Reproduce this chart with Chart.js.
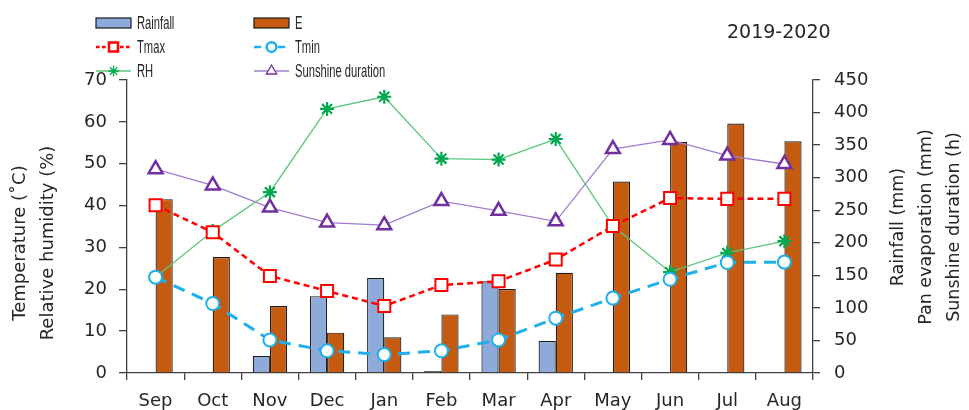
<!DOCTYPE html><html lang="en"><head><meta charset="utf-8">
<title>Climate 2019-2020</title>
<script src="https://cdn.jsdelivr.net/npm/chart.js@4.4.0/dist/chart.umd.min.js"></script>
<style>
html, body { margin: 0; padding: 0; background: #fff; }
#wrap { width: 969px; height: 410px; }
</style>
</head><body>
<div id="wrap"><canvas id="myChart" width="969" height="410"></canvas></div>

<script>
const months = ["Sep", "Oct", "Nov", "Dec", "Jan", "Feb", "Mar", "Apr", "May", "Jun", "Jul", "Aug"];

// right axis (mm / h)
const rainfall = [0, 1, 26, 118, 146, 3, 141, 49, 1, 1, 1, 1];
const evap = [267, 178, 103, 62, 55, 90, 129, 154, 294, 355, 383, 356];
const sunshine = [313, 288, 254, 231, 227, 264, 249, 233, 344, 358, 334, 321];

// left axis (degC / %)
const tmax = [40.1, 33.6, 23.2, 19.6, 16.0, 21.0, 21.9, 27.1, 35.1, 41.8, 41.6, 41.6];
const tmin = [22.9, 16.6, 7.9, 5.3, 4.4, 5.3, 7.9, 13.1, 17.9, 22.4, 26.4, 26.5];
const rh = [22.9, 33.9, 43.2, 63.1, 66.0, 51.2, 51.0, 55.9, 35.1, 24.1, 28.7, 31.5];

const axisColor = "#404040";
const textColor = "#262626";
const tickFont = { family: "DejaVu Sans", size: 18 };

const datasets = [
  {
    type: "line", label: "Tmax", data: tmax, yAxisID: "y", order: 0,
    borderColor: "#ff0000", borderWidth: 2.5, borderDash: [6, 4],
    pointStyle: "rect", pointRadius: 8.5, pointBorderWidth: 2,
    pointBackgroundColor: "#ffffff", pointBorderColor: "#ff0000",
  },
  {
    type: "line", label: "Tmin", data: tmin, yAxisID: "y", order: 0,
    borderColor: "#1fb0ec", borderWidth: 3, borderDash: [12, 8],
    pointStyle: "circle", pointRadius: 6.5, pointBorderWidth: 2,
    pointBackgroundColor: "#ffffff", pointBorderColor: "#1fb0ec",
  },
  {
    type: "line", label: "RH", data: rh, yAxisID: "y", order: 0,
    borderColor: "#5cc67d", borderWidth: 1.3,
    pointStyle: "star", pointRadius: 7, pointBorderWidth: 2.2,
    pointBackgroundColor: "#00a84f", pointBorderColor: "#00a84f",
  },
  {
    type: "line", label: "Sunshine duration", data: sunshine, yAxisID: "y1", order: 0,
    borderColor: "#9f7ccf", borderWidth: 1.3,
    pointStyle: "triangle", pointRadius: 8, pointBorderWidth: 2.5,
    pointBackgroundColor: "#ffffff", pointBorderColor: "#7030a0",
  },
  {
    type: "bar", label: "Rainfall", data: rainfall, yAxisID: "y1", order: 1,
    backgroundColor: "#8eaadb", borderColor: "#1a1a1a", borderWidth: 1.2,
    barPercentage: 1, categoryPercentage: 0.6,
  },
  {
    type: "bar", label: "E", data: evap, yAxisID: "y1", order: 1,
    backgroundColor: "#c55a11", borderColor: "#1a1a1a", borderWidth: 1.2,
    barPercentage: 1, categoryPercentage: 0.6,
  },
];

// legend in two columns, drawn from the dataset styles
const legendRows = [
  ["Rainfall", "E"],
  ["Tmax", "Tmin"],
  ["RH", "Sunshine duration"],
];
const legendY = [23, 47, 71];
const legendX = [96, 254];

const markerOf = (ds) => ({
  pointStyle: ds.pointStyle,
  radius: ds.pointRadius,
  borderWidth: ds.pointBorderWidth,
});

const drawText = (ctx, text, x, y, sx, font) => {
  ctx.save();
  ctx.font = font;
  ctx.fillStyle = textColor;
  ctx.textBaseline = "middle";
  ctx.translate(x, y);
  ctx.scale(sx, 1);
  ctx.fillText(text, 0, 0);
  ctx.restore();
};

const extras = {
  id: "extras",
  afterDraw(chart) {
    const ctx = chart.ctx;
    const byLabel = {};
    chart.data.datasets.forEach(d => byLabel[d.label] = d);

    legendRows.forEach((row, r) => {
      row.forEach((name, c) => {
        const ds = byLabel[name];
        const x0 = legendX[c], y = legendY[r];
        ctx.save();
        if (ds.type === "bar") {
          ctx.fillStyle = ds.backgroundColor;
          ctx.strokeStyle = ds.borderColor;
          ctx.lineWidth = 1.2;
          ctx.fillRect(x0, y - 5, 35, 10);
          ctx.strokeRect(x0, y - 5, 35, 10);
        } else {
          ctx.strokeStyle = ds.borderColor;
          ctx.lineWidth = Math.min(ds.borderWidth, 2.5);
          ctx.setLineDash(ds.borderDash ? ds.borderDash.map(v => v * 0.6) : []);
          ctx.beginPath();
          ctx.moveTo(x0, y);
          ctx.lineTo(x0 + 35, y);
          ctx.stroke();
          ctx.setLineDash([]);
          ctx.fillStyle = ds.pointBackgroundColor;
          ctx.strokeStyle = ds.pointBorderColor;
          const m = markerOf(ds);
          m.radius = m.radius * 0.75;
          m.borderWidth = 2;
          Chart.helpers.drawPoint(ctx, m, x0 + 17.5, y);
        }
        ctx.restore();
        drawText(ctx, name, x0 + 41, y + 1, 0.64, "17.5px 'Liberation Sans'");
      });
    });

    drawText(ctx, "2019-2020", 727, 33, 1, "19px 'DejaVu Sans'");

    // axis titles, both sides read bottom-up
    const leftTitles = [["Temperature (˚C)", 20], ["Relative humidity (%)", 48]];
    const rightTitles = [["Rainfall (mm)", 898], ["Pan evaporation (mm)", 926], ["Sunshine duration (h)", 954]];
    ctx.save();
    ctx.fillStyle = textColor;
    ctx.textAlign = "center";
    ctx.textBaseline = "middle";
    const put = ([t, x], y) => {
      ctx.save();
      ctx.translate(x, y);
      ctx.rotate(-Math.PI / 2);
      ctx.fillText(t, 0, 0);
      ctx.restore();
    };
    ctx.font = "18px 'DejaVu Sans'";
    leftTitles.forEach(t => put(t, 243));
    ctx.font = "17.5px 'DejaVu Sans'";
    rightTitles.forEach(t => put(t, 227));
    ctx.restore();
  },
};

const ctx = document.getElementById("myChart").getContext("2d");
const chart = new Chart(ctx, {
  data: { labels: months, datasets },
  plugins: [extras],
  options: {
    responsive: false,
    animation: false,
    layout: { padding: { top: 80, left: 0, right: 0, bottom: 0 } },
    plugins: {
      legend: { display: false },
      tooltip: { enabled: false },
    },
    scales: {
      x: {
        offset: true,
        afterFit: (s) => { s.height = 37; },
        border: { color: axisColor, width: 1.3 },
        grid: { offset: true, drawOnChartArea: false, drawTicks: true, tickLength: 7, color: axisColor, lineWidth: 1.3 },
        ticks: { font: tickFont, color: textColor, padding: 11, maxRotation: 0 },
      },
      y: {
        position: "left",
        min: 0, max: 70,
        afterFit: (s) => { s.width = 127; },
        border: { color: axisColor, width: 1.3 },
        grid: { drawOnChartArea: false, drawTicks: true, tickLength: 8, color: axisColor, lineWidth: 1.3 },
        ticks: { stepSize: 10, font: tickFont, color: textColor, padding: 12 },
      },
      y1: {
        position: "right",
        min: 0, max: 450,
        afterFit: (s) => { s.width = 156; },
        border: { color: axisColor, width: 1.3 },
        grid: { drawOnChartArea: false, drawTicks: true, tickLength: 7, color: axisColor, lineWidth: 1.3 },
        ticks: { stepSize: 50, font: tickFont, color: textColor, padding: 14 },
      },
    },
  },
});
</script>
</body>
</html>
